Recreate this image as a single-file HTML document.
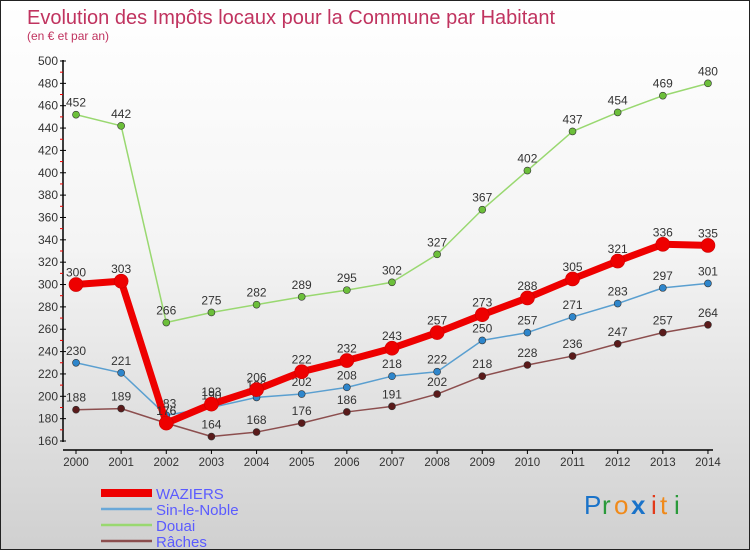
<!DOCTYPE html>
<html><head><meta charset="utf-8"><style>
body{margin:0;width:750px;height:550px;overflow:hidden}
#wrap{position:relative;width:748px;height:548px;border:1px solid #222;background:linear-gradient(#ffffff 0%,#f4f4f4 45%,#d0d0d0 100%);font-family:"Liberation Sans",sans-serif}
svg text{font-family:"Liberation Sans",sans-serif}
</style></head><body>
<div id="wrap">
<svg id="chart" width="748" height="548">
<text x="26" y="23" font-size="20" fill="#c0335f">Evolution des Impôts locaux pour la Commune par Habitant</text>
<text x="26" y="39" font-size="12" fill="#c0335f">(en € et par an)</text>
<g id="axes"></g><g id="series"></g><g id="legend"></g>
<g font-size="26">
<text x="583" y="513" fill="#1a73c9">P</text><text x="601" y="513" fill="#2a9a3a">r</text><text x="613" y="513" fill="#f08a1a">o</text>
<text x="630" y="513" fill="#1a73c9" font-weight="bold">x</text><text x="650" y="513" fill="#e23a1a">i</text><text x="659" y="513" fill="#f08a1a">t</text><text x="673" y="513" fill="#2a9a3a">i</text>
</g>
</svg>
</div>
<script>
const years=[2000,2001,2002,2003,2004,2005,2006,2007,2008,2009,2010,2011,2012,2013,2014];
const waziers=[300,303,176,193,206,222,232,243,257,273,288,305,321,336,335];
const sinLeNoble=[230,221,183,190,199,202,208,218,222,250,257,271,283,297,301];
const douai=[452,442,266,275,282,289,295,302,327,367,402,437,454,469,480];
const raches=[188,189,176,164,168,176,186,191,202,218,228,236,247,257,264];
const yTicks=[160,180,200,220,240,260,280,300,320,340,360,380,400,420,440,460,480,500];
const seriesNames=["WAZIERS","Sin-le-Noble","Douai","Râches"];
const NS="http://www.w3.org/2000/svg";
const X=y=>75+(y-2000)*45.14;
const Y=v=>440-(v-160)*380/340;
function mk(tag,attrs,parent,txt){const e=document.createElementNS(NS,tag);for(const k in attrs)e.setAttribute(k,attrs[k]);if(txt!==undefined)e.textContent=txt;parent.appendChild(e);return e;}
const ax=document.getElementById('axes');
let yl=mk('line',{x1:62,y1:59,x2:62,y2:441,stroke:'#000','stroke-width':1.5},ax);


let xl=mk('line',{x1:62,y1:449,x2:712,y2:449,stroke:'#000','stroke-width':1.5},ax);


yTicks.forEach((t,i)=>{
 mk('line',{x1:59,x2:65,y1:Y(t),y2:Y(t),stroke:'#000'},ax);
 if(i<yTicks.length-1) mk('line',{x1:59,x2:62,y1:Y(t+10),y2:Y(t+10),stroke:'#e00'},ax);
 const l=mk('text',{x:57,y:Y(t)+4,'text-anchor':'end','font-size':12,fill:'#333'},ax,t);
 
 
});
years.forEach(y=>{
 mk('line',{x1:X(y),x2:X(y),y1:449,y2:453,stroke:'#000'},ax);
 const l=mk('text',{x:X(y),y:465,'text-anchor':'middle','font-size':11.5,fill:'#333'},ax,y);
 
 
});
const sg=document.getElementById('series');
const defs=[[douai,'#99d870','#6cbf3a',1.5,3.5,'douai'],[raches,'#8c4e4e','#5a1a1a',1.5,3.5,'raches'],[sinLeNoble,'#5a9fd0','#2e86cc',1.5,3.5,'sin-le-noble'],[waziers,'#ee0000','#ee0000',7,7,'waziers']];
defs.forEach(([vals,lc,pc,w,r,name])=>{
 const g=mk('g',{},sg);
 
 
 const p=mk('polyline',{points:vals.map((v,i)=>X(years[i])+','+Y(v)).join(' '),fill:'none',stroke:lc,'stroke-width':w,'stroke-linejoin':'round'},g);
 
 
 vals.forEach((v,i)=>{
  const c=mk('circle',{cx:X(years[i]),cy:Y(v),r:r,fill:pc,stroke:name==='waziers'?'#c00':'#333','stroke-width':0.6},g);
  
  
  const t=mk('text',{x:X(years[i]),y:Y(v)-8,'text-anchor':'middle','font-size':12,fill:'#333'},g,v);
  
  
 });
});
const lg=document.getElementById('legend');
const lcol=['#ee0000','#6aa8d8','#99d870','#8c4e4e'],lw=[8,2.5,2.5,2.5];
seriesNames.forEach((n,i)=>{
 const y=492+i*16;
 const e=mk('g',{},lg);
 
 
 mk('line',{x1:100,x2:151,y1:y,y2:y,stroke:lcol[i],'stroke-width':lw[i]},e);
 mk('text',{x:155,y:y+6,'font-size':15,fill:'#5b5bff'},e,n);
});
</script>
</body></html>
